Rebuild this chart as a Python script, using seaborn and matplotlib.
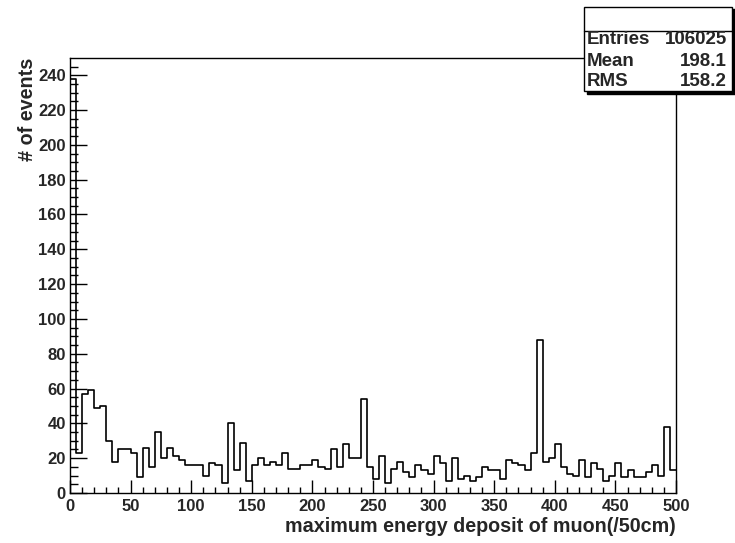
import numpy as np
import pandas as pd
import matplotlib
matplotlib.use("Agg")
import matplotlib.pyplot as plt
from matplotlib.patches import Rectangle
from matplotlib.ticker import MultipleLocator
import seaborn as sns

# Histogram binning: 100 bins of width 5 from 0 to 500
bin_width = 5
x_range = (0, 500)

# Counts per bin
counts = [
    238, 23, 57, 59, 49, 50, 30, 18, 25, 25,
    23, 9, 26, 15, 35, 20, 26, 21, 19, 16,
    16, 16, 10, 17, 16, 6, 40, 13, 29, 7,
    16, 20, 16, 18, 16, 23, 14, 14, 16, 16,
    19, 15, 14, 25, 15, 28, 20, 20, 54, 15,
    8, 21, 6, 14, 18, 12, 9, 16, 13, 11,
    21, 17, 7, 20, 8, 10, 7, 9, 15, 13,
    13, 8, 19, 17, 16, 13, 23, 88, 18, 20,
    28, 15, 11, 10, 19, 9, 17, 14, 7, 10,
    17, 9, 13, 9, 9, 12, 16, 10, 38, 13,
]

# Statistics panel entries
stat_names = ["Entries", "Mean", "RMS"]
stat_values = ["106025", "198.1", "158.2"]

x_ticks = list(range(0, 501, 50))
y_ticks = list(range(0, 241, 20))
x_label = "maximum energy deposit of muon(/50cm)"
y_label = "# of events"

sns.set_style("white")
plt.rcParams["font.family"] = ["Liberation Sans", "DejaVu Sans"]
plt.rcParams["font.weight"] = "bold"

W, H = 735, 543
fig = plt.figure(figsize=(W / 100, H / 100), dpi=100)
fig.patch.set_facecolor("white")

x0, x1, y0, y1 = 70, 676, 58, 493
ax = fig.add_axes([x0 / W, 1 - y1 / H, (x1 - x0) / W, (y1 - y0) / H])

centers = [x_range[0] + bin_width * (i + 0.5) for i in range(len(counts))]
df = pd.DataFrame({"x": centers, "w": counts})
sns.histplot(data=df, x="x", weights="w", binwidth=bin_width, binrange=x_range,
             element="step", fill=False, color="black", linewidth=1.2, ax=ax)

ax.set_xlim(*x_range)
ax.set_ylim(0, 1.05 * max(counts))

for s in ax.spines.values():
    s.set_visible(True)
    s.set_color("black")
    s.set_linewidth(1.0)

ax.set_xticks(x_ticks)
ax.set_yticks(y_ticks)
ax.xaxis.set_minor_locator(MultipleLocator(10))
ax.yaxis.set_minor_locator(MultipleLocator(5))
ax.set_xticklabels([str(v) for v in x_ticks], fontsize=12, fontweight="bold")
ax.set_yticklabels([str(v) for v in y_ticks], fontsize=12, fontweight="bold")

ax.tick_params(which="both", bottom=True, left=True, top=False, right=False,
               direction="in", color="black", width=1.0)
ax.tick_params(axis="x", which="major", length=9.3, pad=4.5)
ax.tick_params(axis="x", which="minor", length=4.5)
ax.tick_params(axis="y", which="major", length=12, pad=3)
ax.tick_params(axis="y", which="minor", length=6)

ax.set_xlabel(x_label, fontsize=14.2, fontweight="bold", loc="right", labelpad=2)
ax.set_ylabel(y_label, fontsize=14.2, fontweight="bold", loc="top", labelpad=1)

# Statistics box with drop shadow
bx0, bx1, by0, by1 = 584, 732, 7, 91
sh = 2.5
fig.patches.append(Rectangle(((bx0 + sh) / W, 1 - (by1 + sh) / H), (bx1 - bx0) / W,
                             (by1 - by0) / H, transform=fig.transFigure,
                             facecolor="black", edgecolor="black", zorder=5))
fig.patches.append(Rectangle((bx0 / W, 1 - by1 / H), (bx1 - bx0) / W, (by1 - by0) / H,
                             transform=fig.transFigure, facecolor="white",
                             edgecolor="black", linewidth=1.0, zorder=6))
fig.lines.append(plt.Line2D([bx0 / W, bx1 / W], [1 - 31 / H, 1 - 31 / H],
                            transform=fig.transFigure, color="black",
                            linewidth=1.0, zorder=7))
row_y = [40, 61, 81]
for name, val, ry in zip(stat_names, stat_values, row_y):
    fig.text(587 / W, 1 - ry / H, name, ha="left", va="center",
             fontsize=13.5, fontweight="bold", zorder=8)
    fig.text(727 / W, 1 - ry / H, val, ha="right", va="center",
             fontsize=13.5, fontweight="bold", zorder=8)

fig.savefig("out.png", dpi=100, facecolor="white")
